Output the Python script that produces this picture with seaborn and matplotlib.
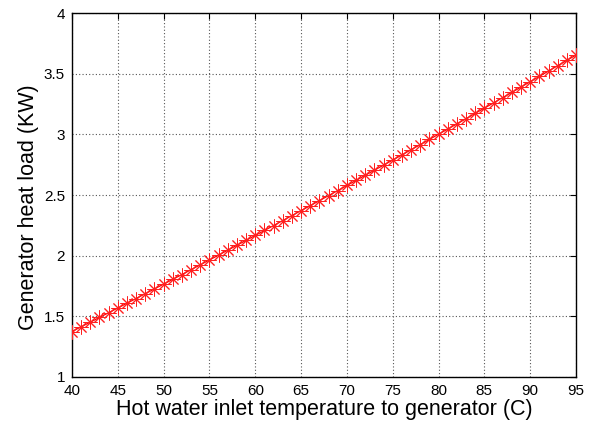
import matplotlib
matplotlib.use("Agg")
import matplotlib.pyplot as plt
import seaborn as sns
import pandas as pd

# Hot water inlet temperature to generator (C)
temperature = list(range(40, 96))

# Generator heat load (KW)
heat_load = [
    1.375, 1.414, 1.452, 1.491, 1.530, 1.569, 1.608, 1.647, 1.687, 1.726,
    1.766, 1.805, 1.845, 1.885, 1.925, 1.965, 2.005, 2.046, 2.086, 2.127,
    2.167, 2.208, 2.249, 2.290, 2.331, 2.372, 2.413, 2.454, 2.496, 2.537,
    2.579, 2.621, 2.663, 2.705, 2.747, 2.789, 2.831, 2.874, 2.916, 2.959,
    3.002, 3.044, 3.087, 3.130, 3.174, 3.217, 3.260, 3.304, 3.347, 3.391,
    3.435, 3.479, 3.523, 3.567, 3.611, 3.655,
]

x_ticks = list(range(40, 96, 5))
y_ticks = [1, 1.5, 2, 2.5, 3, 3.5, 4]
y_tick_labels = ["1", "1.5", "2", "2.5", "3", "3.5", "4"]

df = pd.DataFrame({"temperature": temperature, "heat_load": heat_load})

sns.set_style("white")
plt.rcParams["font.family"] = ["Liberation Sans", "DejaVu Sans"]
plt.rcParams["text.color"] = "black"
plt.rcParams["axes.labelcolor"] = "black"

fig = plt.figure(figsize=(5.92, 4.25), dpi=100)
ax = fig.add_axes([0.1216, 0.113, 0.8514, 0.856])

sns.lineplot(data=df, x="temperature", y="heat_load", ax=ax,
             color="#ff0000", linewidth=0.9, marker=(8, 2, 0),
             markersize=10, markeredgewidth=0.7, markeredgecolor="#ff2020",
             zorder=3)

ax.set_xlim(40, 95)
ax.set_ylim(1, 4)
ax.set_xticks(x_ticks)
ax.set_yticks(y_ticks)
ax.set_yticklabels(y_tick_labels)

ax.grid(True, linestyle=(0, (1, 2)), color="#555555", linewidth=0.8)
ax.tick_params(direction="in", length=4, width=0.8, color="black",
               top=True, right=True, labelsize=11, pad=5, labelcolor="black")

for side in ax.spines.values():
    side.set_color("black")
    side.set_linewidth(1.0)

ax.set_xlabel("Hot water inlet temperature to generator (C)", fontsize=15.5,
              labelpad=1, color="black")
ax.set_ylabel("Generator heat load (KW)", fontsize=15.5, color="black")
ax.yaxis.set_label_coords(-0.065, 0.467)

fig.savefig("out.png", dpi=100)
